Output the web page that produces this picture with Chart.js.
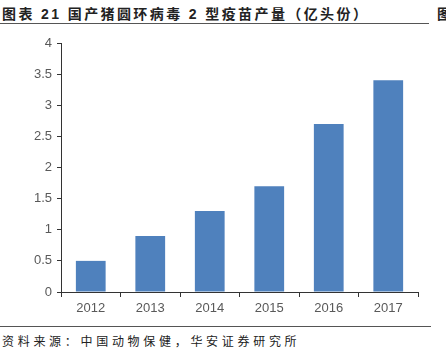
<!DOCTYPE html>
<html>
<head>
<meta charset="utf-8">
<script src="https://cdn.jsdelivr.net/npm/chart.js@4"></script>
<style>
  body { margin: 0; background: #fff; width: 446px; height: 361px; overflow: hidden; position: relative; font-family: "Liberation Sans", Arial, "Noto Sans CJK SC", sans-serif; }
  #title { position: absolute; left: 2px; top: 3px; font-size: 14px; font-weight: bold; color: #222; white-space: nowrap; letter-spacing: 2.4px; font-family: "Liberation Sans", "Noto Sans CJK SC", sans-serif; }
  #title2 { position: absolute; left: 437px; top: 3px; font-size: 14px; font-weight: bold; color: #222; }
  #line1 { position: absolute; left: 0; top: 23px; width: 429px; height: 1px; border-top: 1.5px solid #555; }
  #line2 { position: absolute; left: 0; top: 326px; width: 431px; border-top: 1px solid #555; }
  #foot { position: absolute; left: 2px; top: 332px; font-size: 12px; color: #222; letter-spacing: 3.7px; white-space: nowrap; font-family: "Noto Sans CJK SC", sans-serif; }
  #wrap { position: absolute; left: 0; top: 30px; width: 446px; height: 290px; }
</style>
</head>
<body>
<div id="title">图表 21 国产猪圆环病毒 2 型疫苗产量（亿头份）</div>
<div id="title2">图</div>
<div id="line1"></div>
<div id="wrap"><canvas id="myChart"></canvas></div>
<div id="line2"></div>
<div id="foot">资料来源：中国动物保健，华安证券研究所</div>
<script>
var years = ['2012', '2013', '2014', '2015', '2016', '2017'];
var output = [0.5, 0.9, 1.3, 1.7, 2.7, 3.4];

var ctx = document.getElementById('myChart').getContext('2d');
var chart = new Chart(ctx, {
    type: 'bar',
    data: {
        labels: years,
        datasets: [{
            label: '产量',
            backgroundColor: 'rgb(79, 129, 189)',
            data: output,
            categoryPercentage: 1,
            barPercentage: 0.5
        }]
    },
    options: {
        responsive: true,
        maintainAspectRatio: false,
        animation: false,
        layout: { padding: { top: 13, right: 28, left: 0, bottom: 0 } },
        plugins: { legend: { display: false }, tooltip: { enabled: false } },
        scales: {
            x: {
                grid: { display: true, drawOnChartArea: false, drawTicks: true, tickLength: 5, color: '#333', offset: true },
                border: { display: true, color: '#333', width: 1 },
                ticks: { color: '#595959', font: { family: 'Liberation Sans', size: 13 }, padding: 4 },
                afterFit: function (s) { s.height = 28; }
            },
            y: {
                min: 0,
                max: 4,
                grid: { display: true, drawOnChartArea: false, drawTicks: true, tickLength: 4, color: '#333' },
                border: { display: true, color: '#333', width: 1 },
                ticks: {
                    stepSize: 0.5,
                    color: '#595959',
                    font: { family: 'Liberation Sans', size: 13 },
                    padding: 5,
                    callback: function (v) { return String(v); }
                },
                afterFit: function (s) { s.width = 61; }
            }
        }
    }
});
</script>
</body>
</html>
